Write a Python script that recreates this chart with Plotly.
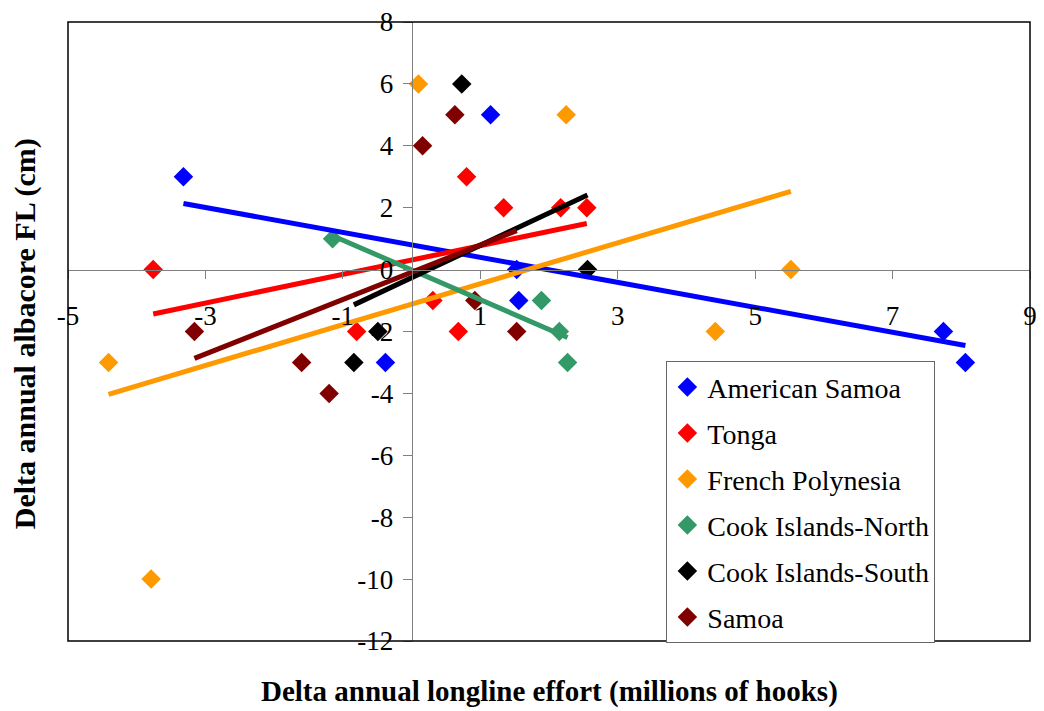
import numpy as np
import plotly.graph_objects as go

# Change in annual longline effort (millions of hooks) vs change in mean albacore fork length (cm)
am_samoa_x = [-3.32, 1.15, 1.53, 1.56, -0.38, 7.74, 8.06]
am_samoa_y = [3, 5, 0, -1, -3, -2, -3]

tonga_x = [-3.76, 0.80, 1.34, 2.17, 2.55, 0.31, -0.80, 0.68]
tonga_y = [0, 3, 2, 2, 2, -1, -2, -2]

fr_poly_x = [0.10, 2.25, -4.41, -3.79, 5.52, 4.42]
fr_poly_y = [6, 5, -3, -10, 0, -2]

cook_n_x = [-1.15, 1.89, 2.15, 2.27]
cook_n_y = [1, -1, -2, -3]

cook_s_x = [0.73, 2.56, -0.49, -0.84]
cook_s_y = [6, 0, -2, -3]

samoa_x = [0.63, 0.16, 0.92, 1.53, -3.16, -1.60, -1.20]
samoa_y = [5, 4, -1, -2, -2, -3, -4]

series_names = ["American Samoa", "Tonga", "French Polynesia",
                "Cook Islands-North", "Cook Islands-South", "Samoa"]
series_x = [am_samoa_x, tonga_x, fr_poly_x, cook_n_x, cook_s_x, samoa_x]
series_y = [am_samoa_y, tonga_y, fr_poly_y, cook_n_y, cook_s_y, samoa_y]
series_colors = ["#0000FF", "#FF0000", "#FF9900", "#339966", "#000000", "#800000"]

x_range = [-5, 9]
y_range = [-12, 8]
x_ticks = [-5, -3, -1, 1, 3, 5, 7, 9]
y_ticks = [-12, -10, -8, -6, -4, -2, 0, 2, 4, 6, 8]
x_tick_labels = ["-5", "-3", "-1", "1", "3", "5", "7", "9"]
y_tick_labels = ["-12", "-10", "-8", "-6", "-4", "-2", "0", "2", "4", "6", "8"]

SERIF = "Liberation Serif"

fig = go.Figure()

# scatter points
for name, xs, ys, col in zip(series_names, series_x, series_y, series_colors):
    fig.add_trace(go.Scatter(
        x=xs, y=ys, mode="markers", name=name, legendgroup=name,
        marker=dict(symbol="diamond", size=15, color=col, line=dict(width=0)),
    ))

# least-squares linear trend for each series, over its own x extent
for name, xs, ys, col in zip(series_names, series_x, series_y, series_colors):
    slope, intercept = np.polyfit(xs, ys, 1)
    x0, x1 = min(xs), max(xs)
    fig.add_trace(go.Scatter(
        x=[x0, x1], y=[slope * x0 + intercept, slope * x1 + intercept],
        mode="lines", showlegend=False, hoverinfo="skip",
        line=dict(color=col, width=5),
    ))

# axes cross at the origin
x_cross = (0 - y_range[0]) / (y_range[1] - y_range[0])
y_cross = (0 - x_range[0]) / (x_range[1] - x_range[0])

fig.update_layout(
    width=1044, height=711,
    margin=dict(l=68, r=7, t=22, b=70),
    paper_bgcolor="white", plot_bgcolor="white",
    font=dict(family=SERIF, size=27, color="black"),
    xaxis=dict(
        range=x_range, tickmode="array", tickvals=x_ticks, ticktext=x_tick_labels,
        ticks="outside", ticklen=8,
        tickcolor="#808080", tickwidth=1, showline=True, linecolor="#808080",
        linewidth=1, showgrid=False, zeroline=False, anchor="free",
        position=x_cross, ticklabelstandoff=14,
        tickfont=dict(family=SERIF, size=27, color="black"),
    ),
    yaxis=dict(
        range=y_range, tickmode="array", tickvals=y_ticks, ticktext=y_tick_labels,
        ticks="outside", ticklen=9,
        tickcolor="#808080", tickwidth=1, showline=True, linecolor="#808080",
        linewidth=1, showgrid=False, zeroline=False, anchor="free",
        position=y_cross, ticklabelstandoff=4,
        tickfont=dict(family=SERIF, size=27, color="black"),
    ),
    legend=dict(
        x=0.622, y=0.452, xanchor="left", yanchor="top",
        bgcolor="white", bordercolor="#666666", borderwidth=1,
        font=dict(family=SERIF, size=28, color="black"),
        tracegroupgap=6.6, itemclick=False,
    ),
    shapes=[dict(type="rect", xref="paper", yref="paper", x0=0, x1=1, y0=0, y1=1,
                 line=dict(color="black", width=1.5), layer="above")],
    annotations=[
        dict(text="<b>Delta annual longline effort (millions of hooks)</b>",
             xref="paper", yref="paper", x=0.5, y=-0.082, xanchor="center",
             yanchor="middle", showarrow=False,
             font=dict(family=SERIF, size=29, color="black")),
        dict(text="<b>Delta annual albacore FL (cm)</b>",
             xref="paper", yref="paper", x=-0.0444, y=0.496, xanchor="center",
             yanchor="middle", textangle=-90, showarrow=False,
             font=dict(family=SERIF, size=30, color="black")),
    ],
)

fig.write_html("out.html")
